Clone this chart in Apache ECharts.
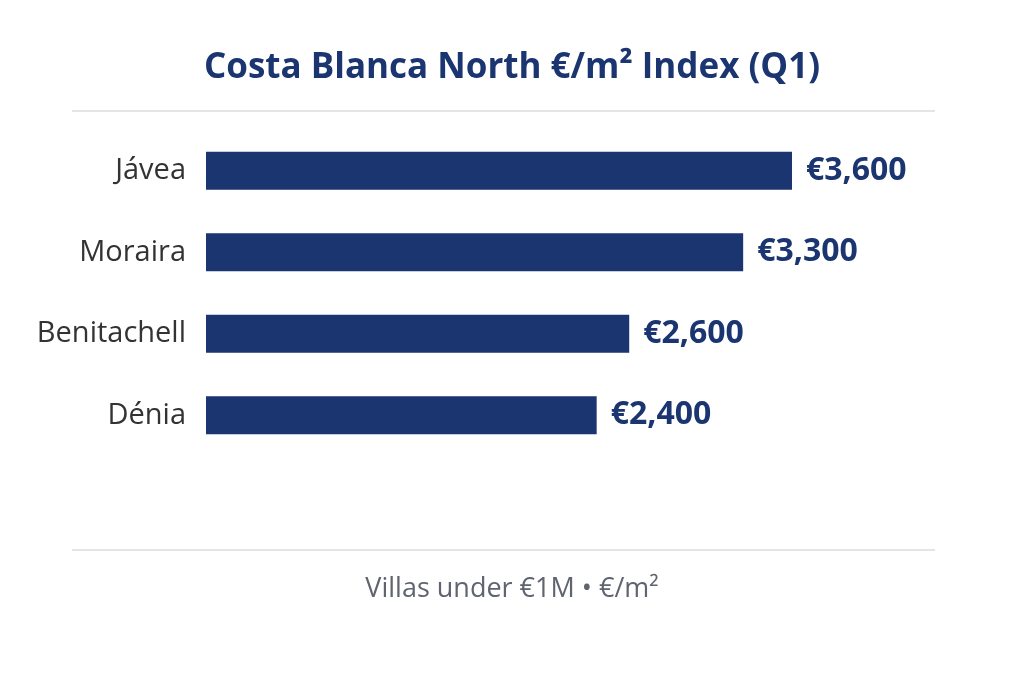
<!DOCTYPE html>
<html><head><meta charset="utf-8">
<script src="https://cdn.jsdelivr.net/npm/echarts@6/dist/echarts.min.js"></script>
<style>html,body{margin:0;background:#fff}#c{width:1024px;height:683px}</style>
</head><body><div id="c"></div>
<script>
const categories = ['Jávea','Moraira','Benitachell','Dénia'];
const values = [3600,3300,2600,2400];
const titleText = 'Costa Blanca North €/m² Index (Q1)';
const footText = 'Villas under €1M • €/m²';
const navy = '#1b3570';
const chart = echarts.init(document.getElementById('c'));
chart.setOption({
  backgroundColor:'#fff',
  title:{text:titleText,left:'center',top:46,textStyle:{fontFamily:'Open Sans',fontSize:35,fontWeight:'bold',color:navy}},
  graphic:[
    {type:'line',shape:{x1:72,y1:111,x2:935,y2:111},style:{stroke:'#dcdcdc',lineWidth:1.5}},
    {type:'line',shape:{x1:72,y1:550,x2:935,y2:550},style:{stroke:'#dcdcdc',lineWidth:1.5}},
    {type:'text',left:'center',top:576,style:{text:footText,fontFamily:'Open Sans',fontSize:27,fill:'#5f6470'}}
  ],
  grid:{left:206,right:232,top:130,bottom:227},
  xAxis:{type:'value',min:0,max:3600,show:false},
  yAxis:{type:'category',data:categories,inverse:true,axisLine:{show:false},axisTick:{show:false},
    axisLabel:{fontFamily:'Open Sans',fontSize:29,color:'#333',margin:20}},
  series:[{type:'bar',data:values,barWidth:38,itemStyle:{color:navy},
    label:{show:true,position:'right',distance:14,fontFamily:'Open Sans',fontSize:32,fontWeight:'bold',color:navy,
      formatter:p=>'€'+p.value.toLocaleString('en-US')}}]
});
</script></body></html>
